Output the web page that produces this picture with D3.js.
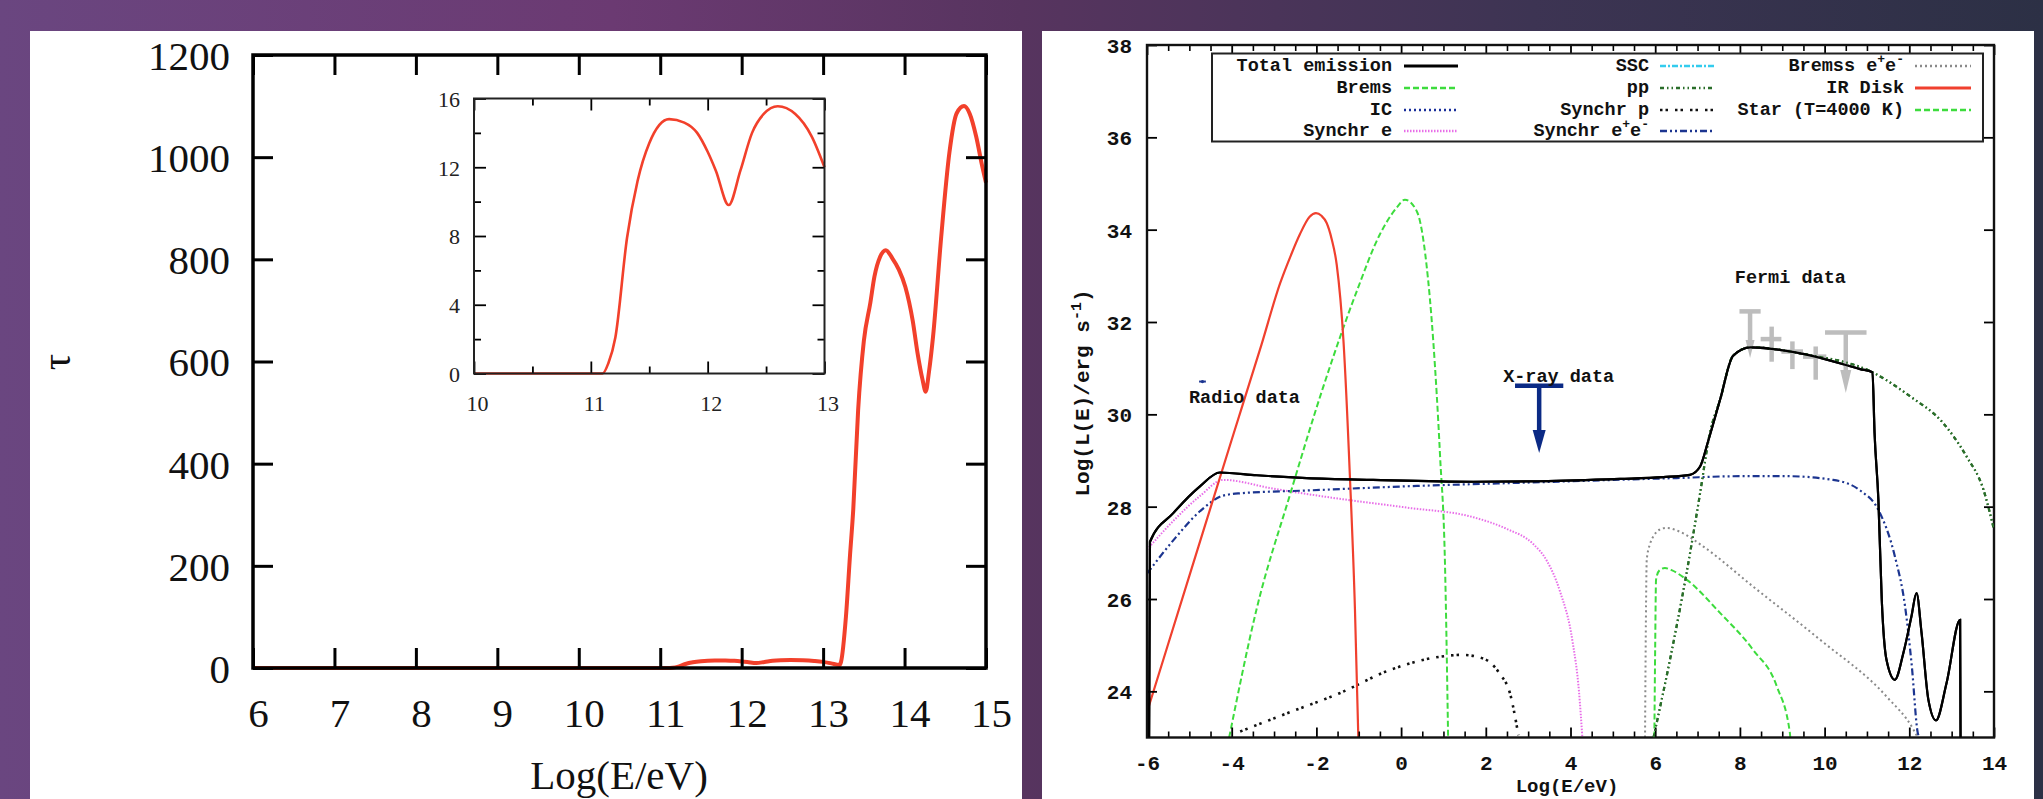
<!DOCTYPE html>
<html>
<head>
<meta charset="utf-8">
<script src="https://cdn.jsdelivr.net/npm/d3@7"></script>
<style>
  body { margin: 0; overflow: hidden; background: #3a3050; }
  svg { display: block; }
</style>
</head>
<body>
<script>
// ---------- left panel: optical depth tau vs Log(E/eV) ----------
const tauE = [6, 7, 8, 9, 10, 11, 11.1, 11.15, 11.21, 11.31, 11.4, 11.5, 11.67, 11.8, 11.91, 12.0,
  12.07, 12.18, 12.28, 12.38, 12.48, 12.6, 12.75, 12.89, 13.0, 13.1, 13.2, 13.22, 13.28, 13.33,
  13.37, 13.43, 13.5, 13.58, 13.63, 13.7, 13.77, 13.85, 13.93, 14.01, 14.1, 14.16, 14.22, 14.26,
  14.3, 14.35, 14.45, 14.55, 14.64, 14.73, 14.8, 14.88, 14.95, 15.0];
const tauV = [0, 0, 0, 0, 0, 0, 0, 0.6, 2.1, 7.9, 11.2, 13.4, 14.8, 14.6, 14.0, 12.9,
  11.8, 9.8, 11.8, 14.0, 15.1, 15.55, 15.1, 13.8, 12.0, 9, 6, 12, 100, 220,
  310, 505, 640, 715, 766, 805, 818, 802, 780, 746, 680, 616, 565, 541,
  580, 649, 844, 1008, 1086, 1100, 1085, 1040, 985, 950];
const tauTicksX = [6, 7, 8, 9, 10, 11, 12, 13, 14, 15];
const tauTicksY = [0, 200, 400, 600, 800, 1000, 1200];

// inset (zoom on 10-13)
const insetE = [10, 11.1, 11.15, 11.21, 11.31, 11.4, 11.5, 11.67, 11.8, 11.91, 12.0, 12.07, 12.18,
  12.28, 12.38, 12.48, 12.6, 12.75, 12.89, 13.0];
const insetV = [0, 0, 0.6, 2.1, 7.9, 11.2, 13.4, 14.8, 14.6, 14.0, 12.9, 11.8, 9.8,
  11.8, 14.0, 15.1, 15.55, 15.1, 13.8, 12.0];
const insetTicksX = [10, 11, 12, 13];
const insetMinorX = [10.5, 11.5, 12.5];
const insetTicksY = [0, 4, 8, 12, 16];
const insetMinorY = [2, 6, 10, 14];

// ---------- right panel: SED, Log(L(E)/erg s^-1) vs Log(E/eV) ----------
const totalE = [-5.95, -5.93, -5.38, -4.75, -4.28, -3.41, -2.23, -0.66, 1.70, 3.28, 5.17, 6.19, 6.82,
  7.06, 7.26, 7.53, 7.84, 8.25, 9.55, 10.84, 11.13, 11.18, 11.27, 11.35, 11.46, 11.66, 11.86,
  12.05, 12.17, 12.29, 12.45, 12.63, 12.88, 13.20, 13.21];
const totalL = [23.0, 27.24, 27.86, 28.44, 28.74, 28.68, 28.62, 28.58, 28.54, 28.55, 28.60, 28.64, 28.69,
  28.87, 29.45, 30.31, 31.27, 31.45, 31.30, 30.98, 30.91, 29.59, 28.15, 25.98, 24.69, 24.25, 24.83,
  25.62, 26.13, 25.26, 23.82, 23.37, 24.18, 25.55, 23.0];
const diskE = [-6, -5, -4, -3.3, -2.86, -2.6, -2.39, -2.16, -2.01, -1.88, -1.76, -1.64, -1.52, -1.36,
  -1.21, -1.09, -1.01];
const diskL = [23.55, 26.5, 29.45, 31.5, 32.83, 33.45, 33.9, 34.28, 34.36, 34.3, 34.15, 33.8, 33.24,
  31.58, 28.68, 25.79, 23.0];
const starE = [-4.06, -3.41, -2.62, -1.84, -1.05, -0.5, -0.1, 0.09, 0.37, 0.60, 0.76, 0.92, 1.04, 1.11];
const starL = [23.0, 25.79, 28.27, 30.59, 32.66, 33.9, 34.48, 34.65, 34.4, 33.24, 31.58, 29.1, 26.61, 23.0];
const bremsE = [5.98, 6.0, 6.02, 6.1, 6.23, 6.4, 6.74, 7.53, 8.31, 8.87, 9.18, 9.19];
const bremsL = [23.0, 25.0, 26.42, 26.62, 26.67, 26.62, 26.42, 25.7, 24.9, 24.11, 23.1, 23.0];
const synEE = [-6, -5.38, -4.75, -4.20, -3.02, -1.45, 0.13, 1.71, 2.49, 3.12, 3.44, 3.75, 4.05, 4.2, 4.28];
const synEL = [27.07, 27.69, 28.23, 28.58, 28.39, 28.17, 27.98, 27.77, 27.52, 27.19, 26.83, 26.17,
  25.07, 24.0, 23.0];
const synPairE = [-6, -5.38, -4.75, -4.2, -3.8, -2.23, 0.1, 3.28, 6.5, 8.0, 9.10, 10.2, 10.84, 11.27,
  11.66, 11.90, 12.06, 12.20, 12.24];
const synPairL = [26.55, 27.27, 27.9, 28.24, 28.29, 28.35, 28.44, 28.53, 28.62, 28.66, 28.66, 28.58,
  28.35, 27.93, 26.92, 25.84, 24.54, 23.1, 23.0];
const ppE = [5.96, 6.35, 6.74, 7.06, 7.29, 7.53, 7.84, 8.25, 9.55, 11.13, 12.02, 12.80, 13.35, 13.75, 14.0];
const ppL = [23.0, 24.69, 26.56, 28.29, 29.59, 30.31, 31.27, 31.45, 31.30, 30.91, 30.39, 29.81, 29.09,
  28.37, 27.5];
const bremsPairE = [5.76, 5.78, 5.80, 5.88, 5.96, 6.1, 6.27, 6.6, 7.13, 8.31, 9.89, 11.46, 12.10, 12.2];
const bremsPairL = [23.0, 25.5, 26.85, 27.2, 27.36, 27.5, 27.54, 27.45, 27.14, 26.27, 25.12, 23.89,
  23.17, 23.0];
const synPE = [-3.80, -2.62, -1.45, -0.27, 0.92, 1.43, 1.94, 2.33, 2.57, 2.77];
const synPL = [23.13, 23.55, 23.96, 24.46, 24.75, 24.79, 24.71, 24.38, 23.96, 23.05];

// data points
const radioE = [-4.69], radioLo = [-4.77], radioHi = [-4.61], radioL = [30.71];
const xrayE = [3.26], xrayLo = [2.69], xrayHi = [3.83], xrayL = [30.62], xrayTip = [29.16];
const fermiE = [8.75, 9.24, 9.79];
const fermiElo = [8.49, 8.98, 9.49];
const fermiEhi = [8.98, 9.49, 10.04];
const fermiL = [31.63, 31.36, 31.25];
const fermiLlo = [31.14, 30.98, 30.75];
const fermiLhi = [31.90, 31.58, 31.47];
const ulE = [8.24, 10.50];
const ulElo = [7.99, 10.01];
const ulEhi = [8.49, 10.99];
const ulL = [32.23, 31.77];
const ulTip = [31.22, 30.46];

const sedTicksX = [-6, -4, -2, 0, 2, 4, 6, 8, 10, 12, 14];
const sedTicksY = [24, 26, 28, 30, 32, 34, 36, 38];

// ---------- page ----------
const W = 2043, H = 799;
const svg = d3.select('body').append('svg').attr('width', W).attr('height', H);

const defs = svg.append('defs');
const bg = defs.append('linearGradient').attr('id', 'bg');
[[0, '#6a4680'], [0.3, '#6b3a72'], [0.5, '#57345f'], [0.75, '#3d3453'], [1, '#2c3045']]
  .forEach(([o, c]) => bg.append('stop').attr('offset', o).attr('stop-color', c));
svg.append('rect').attr('width', W).attr('height', H).attr('fill', 'url(#bg)');

// white panels
svg.append('rect').attr('x', 30).attr('y', 31).attr('width', 992).attr('height', H).attr('fill', '#fff');
svg.append('rect').attr('x', 1042).attr('y', 31).attr('width', 992).attr('height', H).attr('fill', '#fff');

// ================= LEFT PANEL =================
const serif = 'Liberation Serif, Times New Roman, serif';
const xL = d3.scaleLinear([6, 15], [253, 986]);
const yL = d3.scaleLinear([0, 1200], [668, 55]);

const gL = svg.append('g');

gL.append('path')
  .attr('fill', 'none').attr('stroke', '#f2402b').attr('stroke-width', 4)
  .attr('d', d3.line().x(d => xL(d[0])).y(d => yL(d[1])).curve(d3.curveMonotoneX)(d3.zip(tauE, tauV)));

function styleAxis(g, w) {
  g.select('.domain').remove();
  g.selectAll('line').attr('stroke', '#000').attr('stroke-width', w);
}

gL.append('g').attr('transform', `translate(0,${yL(0)})`)
  .call(d3.axisBottom(xL).tickValues(tauTicksX).tickSize(-20).tickFormat(d => d))
  .call(g => styleAxis(g, 3))
  .call(g => g.selectAll('text').attr('y', 59).attr('dy', null).attr('x', 5)
    .attr('font-size', 41).attr('font-family', serif).attr('fill', '#111'));
gL.append('g').attr('transform', `translate(0,${yL(1200)})`)
  .call(d3.axisTop(xL).tickValues(tauTicksX).tickSize(-20).tickFormat(''))
  .call(g => styleAxis(g, 3));
gL.append('g').attr('transform', `translate(${xL(6)},0)`)
  .call(d3.axisLeft(yL).tickValues(tauTicksY).tickSize(-20).tickFormat(d => d))
  .call(g => styleAxis(g, 3))
  .call(g => g.selectAll('text').attr('x', -23).attr('dy', '0.35em')
    .attr('font-size', 41).attr('font-family', serif).attr('fill', '#111'));
gL.append('g').attr('transform', `translate(${xL(15)},0)`)
  .call(d3.axisRight(yL).tickValues(tauTicksY).tickSize(-20).tickFormat(''))
  .call(g => styleAxis(g, 3));

gL.append('rect')
  .attr('x', xL(6)).attr('y', yL(1200))
  .attr('width', xL(15) - xL(6)).attr('height', yL(0) - yL(1200))
  .attr('fill', 'none').attr('stroke', '#000').attr('stroke-width', 3.5);

gL.append('text').attr('x', 619).attr('y', 789).attr('text-anchor', 'middle')
  .attr('font-family', serif).attr('font-size', 41).attr('fill', '#111').text('Log(E/eV)');
gL.append('text').attr('transform', 'translate(70,362) rotate(-90)').attr('text-anchor', 'middle')
  .attr('font-family', serif).attr('font-size', 41).attr('fill', '#111').text('τ');

// inset
const xI = d3.scaleLinear([10, 13], [474, 824.5]);
const yI = d3.scaleLinear([0, 16], [373.5, 98.5]);
const gI = svg.append('g');

gI.append('path')
  .attr('fill', 'none').attr('stroke', '#f2402b').attr('stroke-width', 2.6)
  .attr('d', d3.line().x(d => xI(d[0])).y(d => yI(d[1])).curve(d3.curveMonotoneX)(d3.zip(insetE, insetV)));

const insetAxes = [
  [d3.axisBottom, yI(0), insetTicksX, insetMinorX, true, 'x'],
  [d3.axisTop, yI(16), insetTicksX, insetMinorX, false, 'x'],
  [d3.axisLeft, xI(10), insetTicksY, insetMinorY, true, 'y'],
  [d3.axisRight, xI(13), insetTicksY, insetMinorY, false, 'y']
];
insetAxes.forEach(([ax, pos, major, minor, labels, dim]) => {
  const sc = dim === 'x' ? xI : yI;
  const tr = dim === 'x' ? `translate(0,${pos})` : `translate(${pos},0)`;
  gI.append('g').attr('transform', tr)
    .call(ax(sc).tickValues(minor).tickSize(-7).tickFormat(''))
    .call(g => styleAxis(g, 1.8));
  const gm = gI.append('g').attr('transform', tr)
    .call(ax(sc).tickValues(major).tickSize(-12).tickFormat(labels ? (d => d) : ''))
    .call(g => styleAxis(g, 1.8));
  if (labels) {
    const t = gm.selectAll('text').attr('font-size', 22).attr('font-family', serif).attr('fill', '#222');
    if (dim === 'x') t.attr('y', 37).attr('dy', null).attr('x', 3);
    else t.attr('x', -14).attr('dy', '0.36em');
  }
});
gI.append('rect')
  .attr('x', xI(10)).attr('y', yI(16))
  .attr('width', xI(13) - xI(10)).attr('height', yI(0) - yI(16))
  .attr('fill', 'none').attr('stroke', '#222').attr('stroke-width', 2);

// ================= RIGHT PANEL =================
const mono = 'Liberation Mono, Courier New, monospace';
const xR = d3.scaleLinear([-6, 14], [1147, 1994]);
const yR = d3.scaleLinear([23, 38], [737.5, 45]);
const gR = svg.append('g');

defs.append('clipPath').attr('id', 'plotR').append('rect')
  .attr('x', xR(-6)).attr('y', yR(38))
  .attr('width', xR(14) - xR(-6)).attr('height', yR(23) - yR(38));

const styles = {
  total:     { color: '#000000', dash: null, width: 2.2 },
  brems:     { color: '#3ddc3d', dash: '6,3', width: 2 },
  ic:        { color: '#1a2f9a', dash: '2,3', width: 2 },
  synE:      { color: '#e86ee8', dash: '1.5,1.5', width: 2 },
  ssc:       { color: '#33ccee', dash: '6,2,2,2', width: 2 },
  pp:        { color: '#2a6e2a', dash: '4,3,1.5,3,1.5,3', width: 2.2 },
  synP:      { color: '#111111', dash: '2.5,3,2.5,7', width: 2.6 },
  synPair:   { color: '#1c3590', dash: '7,3,2,3,2,3', width: 2.2 },
  bremsPair: { color: '#8a8a8a', dash: '2,3', width: 2 },
  disk:      { color: '#f0402e', dash: null, width: 2.2 },
  star:      { color: '#3ddc3d', dash: '6,3', width: 2 }
};

const curves = [
  ['synP', synPE, synPL], ['bremsPair', bremsPairE, bremsPairL], ['brems', bremsE, bremsL],
  ['synE', synEE, synEL], ['synPair', synPairE, synPairL], ['pp', ppE, ppL],
  ['star', starE, starL], ['disk', diskE, diskL], ['total', totalE, totalL]
];

const line = d3.line().x(d => xR(d[0])).y(d => yR(d[1])).curve(d3.curveMonotoneX);
const gC = gR.append('g').attr('clip-path', 'url(#plotR)');
curves.forEach(([k, E, L]) => {
  const s = styles[k];
  gC.append('path').attr('fill', 'none')
    .attr('stroke', s.color).attr('stroke-width', s.width)
    .attr('stroke-dasharray', s.dash)
    .attr('d', line(d3.zip(E, L)));
});

// axes
const sedMinorX = d3.range(-6, 14.01, 0.5).filter(v => !sedTicksX.includes(v));
[[d3.axisBottom, yR(23), true], [d3.axisTop, yR(38), false]].forEach(([ax, pos, labels]) => {
  gR.append('g').attr('transform', `translate(0,${pos})`)
    .call(ax(xR).tickValues(sedMinorX).tickSize(-6).tickFormat(''))
    .call(g => styleAxis(g, 1.6));
  const g = gR.append('g').attr('transform', `translate(0,${pos})`)
    .call(ax(xR).tickValues(sedTicksX).tickSize(-10).tickFormat(labels ? (d => d) : ''))
    .call(g => styleAxis(g, 1.8));
  if (labels) g.selectAll('text').attr('y', 32).attr('dy', null)
    .attr('font-size', 21).attr('font-weight', 'bold').attr('font-family', mono).attr('fill', '#111');
});
[[d3.axisLeft, xR(-6), true], [d3.axisRight, xR(14), false]].forEach(([ax, pos, labels]) => {
  const g = gR.append('g').attr('transform', `translate(${pos},0)`)
    .call(ax(yR).tickValues(sedTicksY).tickSize(-10).tickFormat(labels ? (d => d) : ''))
    .call(g => styleAxis(g, 1.8));
  if (labels) g.selectAll('text').attr('x', -15).attr('dy', '0.36em')
    .attr('font-size', 21).attr('font-weight', 'bold').attr('font-family', mono).attr('fill', '#111');
});
gR.append('rect')
  .attr('x', xR(-6)).attr('y', yR(38))
  .attr('width', xR(14) - xR(-6)).attr('height', yR(23) - yR(38))
  .attr('fill', 'none').attr('stroke', '#111').attr('stroke-width', 2.4);

// axis titles
gR.append('text').attr('x', 1567).attr('y', 792).attr('text-anchor', 'middle')
  .attr('font-family', mono).attr('font-weight', 'bold').attr('font-size', 19).attr('fill', '#111')
  .text('Log(E/eV)');
const yt = gR.append('text').attr('transform', 'translate(1089,393) rotate(-90)').attr('text-anchor', 'middle')
  .attr('font-family', mono).attr('font-weight', 'bold').attr('font-size', 21).attr('fill', '#111');
yt.append('tspan').text('Log(L(E)/erg s');
yt.append('tspan').attr('dy', -8).attr('font-size', 15).text('-1');
yt.append('tspan').attr('dy', 8).text(')');

// data points
const gD = gR.append('g');
radioE.forEach((e, i) => {
  gD.append('line').attr('x1', xR(radioLo[i])).attr('x2', xR(radioHi[i]))
    .attr('y1', yR(radioL[i])).attr('y2', yR(radioL[i]))
    .attr('stroke', '#1c3590').attr('stroke-width', 2);
  gD.append('circle').attr('cx', xR(e)).attr('cy', yR(radioL[i])).attr('r', 1.6).attr('fill', '#1c3590');
});

function upperLimit(e, lo, hi, l, tip, color, w, head, hw) {
  const yt = yR(tip), yb = yR(l);
  gD.append('line').attr('x1', xR(lo)).attr('x2', xR(hi)).attr('y1', yb).attr('y2', yb)
    .attr('stroke', color).attr('stroke-width', w);
  gD.append('line').attr('x1', xR(e)).attr('x2', xR(e)).attr('y1', yb).attr('y2', yt - head + 2)
    .attr('stroke', color).attr('stroke-width', w);
  gD.append('path').attr('fill', color)
    .attr('d', `M${xR(e) - hw},${yt - head}L${xR(e) + hw},${yt - head}L${xR(e)},${yt}Z`);
}
xrayE.forEach((e, i) => upperLimit(e, xrayLo[i], xrayHi[i], xrayL[i], xrayTip[i], '#0b2a85', 4.5, 23, 6.5));

const fermiColor = '#bdbdbd';
fermiE.forEach((e, i) => {
  gD.append('line').attr('x1', xR(fermiElo[i])).attr('x2', xR(fermiEhi[i]))
    .attr('y1', yR(fermiL[i])).attr('y2', yR(fermiL[i]))
    .attr('stroke', fermiColor).attr('stroke-width', 4.5);
  gD.append('line').attr('x1', xR(e)).attr('x2', xR(e))
    .attr('y1', yR(fermiLlo[i])).attr('y2', yR(fermiLhi[i]))
    .attr('stroke', fermiColor).attr('stroke-width', 4.5);
});
ulE.forEach((e, i) => upperLimit(e, ulElo[i], ulEhi[i], ulL[i], ulTip[i], fermiColor, 4.5,
  i === 0 ? 18 : 23, i === 0 ? 4.5 : 5.5));

// re-draw the model lines that pass over the Fermi points
gR.append('g').attr('clip-path', 'url(#plotR)').selectAll('path')
  .data([['pp', ppE, ppL], ['total', totalE, totalL]])
  .join('path').attr('fill', 'none')
  .attr('stroke', d => styles[d[0]].color).attr('stroke-width', d => styles[d[0]].width)
  .attr('stroke-dasharray', d => styles[d[0]].dash)
  .attr('d', d => line(d3.zip(d[1], d[2])));

// annotations
const notes = [['Radio data', -5.01, 30.25], ['X-ray data', 2.41, 30.70], ['Fermi data', 7.88, 32.85]];
gR.append('g').selectAll('text').data(notes).join('text')
  .attr('x', d => xR(d[1])).attr('y', d => yR(d[2]))
  .attr('font-family', mono).attr('font-weight', 'bold').attr('font-size', 18.5).attr('fill', '#111')
  .text(d => d[0]);

// legend
const legendCols = [
  { textX: 1392, lineX: [1404, 1458], keys: ['total', 'brems', 'ic', 'synE'] },
  { textX: 1649, lineX: [1660, 1714], keys: ['ssc', 'pp', 'synP', 'synPair'] },
  { textX: 1904, lineX: [1915, 1971], keys: ['bremsPair', 'disk', 'star'] }
];
const legendLabels = {
  total: [['Total emission']], brems: [['Brems']], ic: [['IC']], synE: [['Synchr e']],
  ssc: [['SSC']], pp: [['pp']], synP: [['Synchr p']], synPair: [['Synchr e'], ['+', 1], ['e'], ['-', 1]],
  bremsPair: [['Bremss e'], ['+', 1], ['e'], ['-', 1]], disk: [['IR Disk']], star: [['Star (T=4000 K)']]
};
const rowY = [71, 93, 115, 136];
const gLeg = gR.append('g');
gLeg.append('rect').attr('x', 1212).attr('y', 53.5).attr('width', 771).attr('height', 88)
  .attr('fill', '#fff').attr('stroke', '#222').attr('stroke-width', 2);
legendCols.forEach(col => {
  col.keys.forEach((k, r) => {
    const s = styles[k];
    const t = gLeg.append('text').attr('x', col.textX).attr('y', rowY[r]).attr('text-anchor', 'end')
      .attr('font-family', mono).attr('font-weight', 'bold').attr('font-size', 18.5).attr('fill', '#111');
    let up = false;
    legendLabels[k].forEach(([txt, sup]) => {
      const sp = t.append('tspan').text(txt);
      if (sup && !up) { sp.attr('dy', -8).attr('font-size', 13); up = true; }
      else if (sup && up) { sp.attr('font-size', 13); }
      else if (up) { sp.attr('dy', 8); up = false; }
    });
    gLeg.append('line').attr('x1', col.lineX[0]).attr('x2', col.lineX[1])
      .attr('y1', rowY[r] - 5).attr('y2', rowY[r] - 5)
      .attr('stroke', s.color).attr('stroke-width', k === 'total' || k === 'disk' ? 3 : 2.4)
      .attr('stroke-dasharray', s.dash);
  });
});
</script>
</body>
</html>
